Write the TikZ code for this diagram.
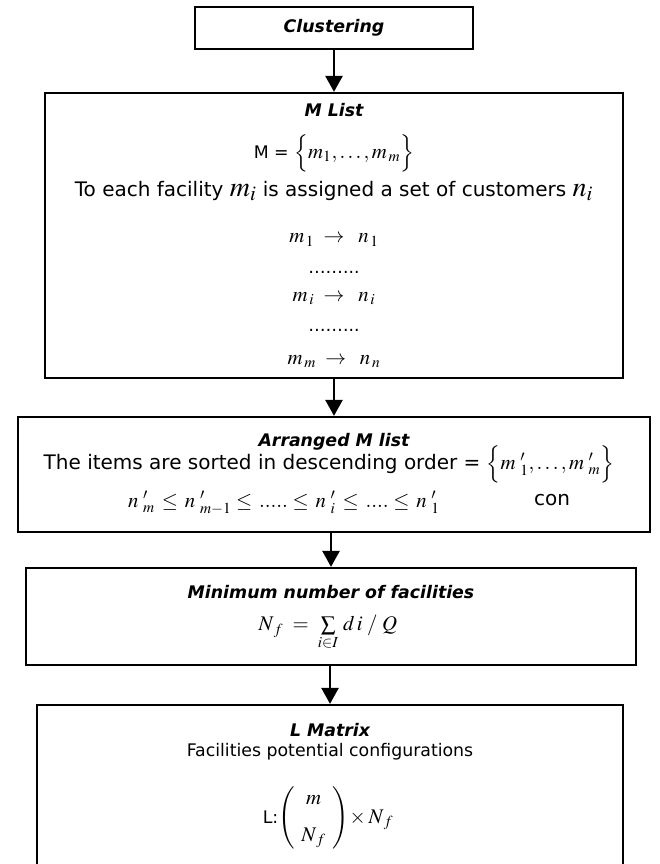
\documentclass[tikz,border=0pt]{standalone}
\usepackage{mathptmx}
\usepackage{amsmath}
\usepackage[no-math]{fontspec}
\setmainfont{DejaVu Sans}
\usetikzlibrary{arrows.meta,positioning}
\newcommand{\mgross}{\fontsize{15.6}{18}\selectfont}
\newcommand{\mriesig}{\fontsize{21}{25}\selectfont}
\newcommand{\tgross}{\fontsize{15}{18}\selectfont}

\begin{document}
\begin{tikzpicture}[box/.style={draw, line width=1.8pt, inner sep=0pt, minimum width=#1},
			x=0.75pt, y=-0.75pt, inner sep=0.5pt,
			>={Triangle[length=12pt,width=13pt]},   %Pfeilspitzen
			titel/.style={font=\fontsize{13}{15.6}\selectfont\bfseries\itshape},
			font=\fontsize{13}{15.6}\selectfont]
			%Bildbereich festlegen
			\useasboundingbox (0,0) rectangle (660,864);
			% Kaesten zeichnen
			\node[box=208.5pt, minimum height=31.5pt] (clustering) at (334,28) {};
			\node[box=433.5pt, minimum height=213.75pt] (mlist) at (334,235.5) {};
			\node[box=474pt, minimum height=86.25pt] (arranged) at (334,474.5) {};
			\node[box=457.5pt, minimum height=72.75pt] (minimum) at (331,616.5) {};
			\node[box=439.5pt, minimum height=146.25pt] (lmatrix) at (330,802.5) {};
			% Pfeile zwischen den Kaesten
			\foreach \a/\b in {clustering/mlist, mlist/arranged, arranged/minimum, minimum/lmatrix}
				\draw[->, line width=1.3pt] (\b.north |- \a.south) -- (\b.north);
			% Clustering
			\node[titel] (tclu) at (334,28) {Clustering};
			% M Liste
			\node[titel] (tml) at (334,110) {M List};
			\node (mset) at (334,153) {M = \mgross$\Big\{m_{1},\ldots,m_{\,m}\Big\}$};
			\node (assign) at (334,191) {\tgross To each facility {\mriesig$m_i$} is assigned a set of customers {\mriesig$n_i$}};
			\node (zeile1) at (334,240) {\mgross$m_{\,1}\;\rightarrow\;\;n_{\,1}$};
			\node (punkte1) at (334,272) {……...};
			\node (zeile2) at (334,299) {\mgross$m_{\,i}\;\rightarrow\;\;n_{\,i}$};
			\node (punkte2) at (334,330) {……...};
			\node (zeile3) at (334,362) {\mgross$m_{\,m}\;\rightarrow\;\;n_{\,n}$};
			% Sortierte Liste
			\node[titel] (tarr) at (334,442) {Arranged M list};
			\node (sorted) at (329,464) {\tgross The items are sorted in descending order = \mgross$\Big\{m\;{}'_{1},\ldots,m\;{}'_{m}\Big\}$};
			\node (kette) at (284,503) {\mgross$n\;{}'_{m}\,\le\,n\;{}'_{m-1}\le\,.....\le\,n\;{}'_{i}\,\le\,....\le\,n\;{}'_{1}$};
			\node (con) at (552,500) {\tgross con};
			% Mindestanzahl
			\node[titel] (tmin) at (331,592) {Minimum number of facilities};
			\node (nf) at (328,633) {\mgross$N_{\,f}\;=\;\sum\limits_{i\in I}\,d\,i\;/\;Q$};
			% L Matrix
			\node[titel] (tlm) at (330,730) {L Matrix};
			\node (konf) at (330,752) {Facilities potential configurations};
			\node (lform) at (328,818) {L:\mgross$\left(\begin{array}{c} m\\[10pt] N_{\,f}\end{array}\right)\!\times N_{\,f}$};
\end{tikzpicture}
\end{document}
